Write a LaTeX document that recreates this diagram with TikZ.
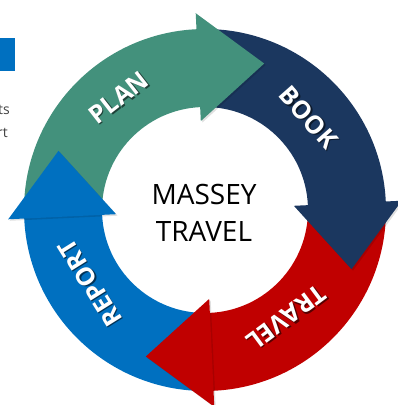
\documentclass[tikz,border=0pt]{standalone}
\usepackage{fontspec}
\setmainfont{Open Sans}
\usetikzlibrary{calc}
\definecolor{cplan}{HTML}{43917C}
\definecolor{cbook}{HTML}{1B375F}
\definecolor{ctravel}{HTML}{C00000}
\definecolor{creport}{HTML}{0070C0}
\definecolor{cfrag}{HTML}{404040}
\newcommand\shtext[4]{\rlap{\kern#1\raisebox{#2}{\textcolor{#3}{#4}}}#4}
\begin{document}
\begin{tikzpicture}[x=1pt,y=1pt,
  lbl/.style={font=\bfseries\fontsize{25}{29}\selectfont, text=white, inner sep=0pt},
  headsh/.style={fill=black, opacity=0.12},
  frag/.style={font=\fontsize{14}{17}\selectfont, text=cfrag, inner sep=0pt, anchor=base east}
]
\useasboundingbox (-205,-195) rectangle (193,210);
\clip (-205,-195) rectangle (193,210);
% bodies
\fill[cplan]   (181:181) arc[start angle=181, end angle=92.2, radius=181] -- (92.2:103) arc[start angle=92.2, end angle=181, radius=103] -- cycle;
\fill[cbook]   (91:181) arc[start angle=91, end angle=2.2, radius=181] -- (2.2:103) arc[start angle=2.2, end angle=91, radius=103] -- cycle;
\fill[ctravel] (1:181) arc[start angle=1, end angle=-87.8, radius=181] -- (-87.8:103) arc[start angle=-87.8, end angle=1, radius=103] -- cycle;
\fill[creport] (-89:181) arc[start angle=-89, end angle=-177.8, radius=181] -- (-177.8:103) arc[start angle=-177.8, end angle=-89, radius=103] -- cycle;
% head shadows
\fill[headsh] ($(92.7:197)+(1.5,-1.5)$) -- ($(68:158)+(1.5,-1.5)$) -- ($(92.7:89)+(1.5,-1.5)$) -- cycle;
\fill[headsh] ($(2.7:197)+(1.5,-1.5)$) -- ($(-22:158)+(1.5,-1.5)$) -- ($(2.7:89)+(1.5,-1.5)$) -- cycle;
\fill[headsh] ($(-87.3:197)+(1.5,-1.5)$) -- ($(-112:158)+(1.5,-1.5)$) -- ($(-87.3:89)+(1.5,-1.5)$) -- cycle;
\fill[headsh] ($(182.7:197)+(1.5,-1.5)$) -- ($(158:158)+(1.5,-1.5)$) -- ($(182.7:89)+(1.5,-1.5)$) -- cycle;
% heads
\fill[cplan]   (92.7:197) -- (68:158) -- (92.7:89) -- cycle;
\fill[cbook]   (2.7:197) -- (-22:158) -- (2.7:89) -- cycle;
\fill[ctravel] (-87.3:197) -- (-112:158) -- (-87.3:89) -- cycle;
\fill[creport] (182.7:197) -- (158:158) -- (182.7:89) -- cycle;
% labels (with drop shadow drawn inside the same node)
\node[lbl, rotate=38]     (plan)   at (127.5:141) {\shtext{0.24pt}{-1.97pt}{cplan!45!black}{PLAN}};
\node[lbl, rotate=-48.5]  (book)   at (41.8:139)  {\shtext{1.98pt}{0.12pt}{cbook!45!black}{BOOK}};
\node[lbl, rotate=-143.5] (travel) at (-53:136)   {\shtext{-0.29pt}{1.96pt}{ctravel!45!black}{TRAVEL}};
\node[lbl, rotate=122]    (report) at (212.4:136) {\shtext{-1.93pt}{-0.45pt}{creport!45!black}{REPORT}};
% centre
\node[align=center, font=\fontsize{28}{37}\selectfont, inner sep=0pt] (centre) at (-1,-3) {MASSEY\\TRAVEL};
% cut-off slide content at the left
\fill[creport] (-205,172) rectangle (-190,139);
\node[frag] (frag1) at (-195,96) {ts};
\node[frag] (frag2) at (-197,73) {rt};
\end{tikzpicture}
\end{document}
